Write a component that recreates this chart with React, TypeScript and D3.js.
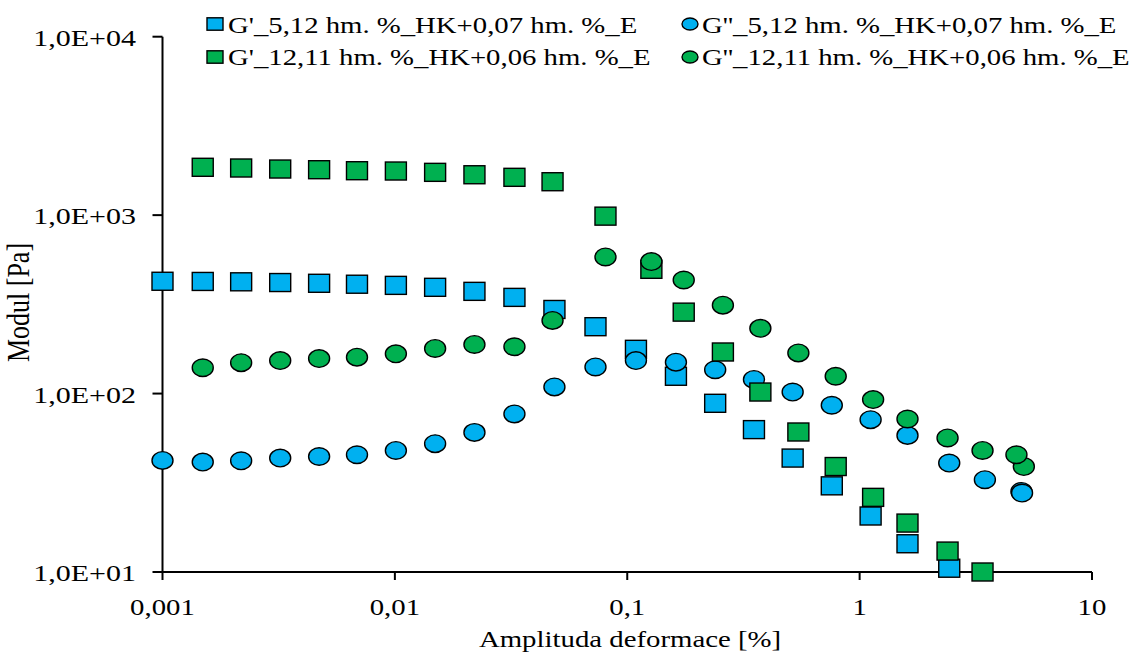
import React from "react";
import * as d3 from "d3";

// ---- data ----
const strainA = [0.001, 0.00149, 0.00218, 0.00321, 0.00472, 0.00687, 0.0101, 0.0149, 0.022, 0.0327, 0.0486, 0.073, 0.109, 0.162, 0.239, 0.351, 0.515, 0.759, 1.115, 1.607, 2.43, 3.46, 4.97, 5.0];
const gPrimeA = [426, 425, 423, 419, 415, 410, 404, 394, 374, 346, 296, 237, 177, 125, 88.2, 62.8, 43.5, 30.4, 20.6, 14.4, 10.5];
const gDoubleA = [42.2, 41.3, 42.0, 43.5, 44.4, 45.4, 48.0, 52.4, 60.6, 76.9, 109, 141, 153, 150, 136, 120, 102, 86.0, 71.4, 58.3, 40.8, 32.9, 28.3, 27.7];

const strainB = [0.00149, 0.00218, 0.00321, 0.00472, 0.00687, 0.0101, 0.0149, 0.022, 0.0327, 0.0477, 0.0806, 0.127, 0.175, 0.258, 0.374, 0.545, 0.789, 1.143, 1.607, 2.39, 3.38, 5.09, 4.73];
const gPrimeB = [1854, 1837, 1813, 1797, 1774, 1767, 1737, 1684, 1629, 1539, 987, 497, 286, 171, 102, 60.9, 39.0, 26.2, 18.8, 13.1, 10.0];
const gDoubleB = [139.5, 149, 153, 157, 160, 167, 179, 188.5, 183, 257, 583, 549, 433, 313, 232, 169, 125, 92.5, 72, 56.4, 48.0, 39.0, 45.4];

const xTicks = [0.001, 0.01, 0.1, 1, 10];
const xTickLabels = ["0,001", "0,01", "0,1", "1", "10"];
const yTicks = [10, 100, 1000, 10000];
const yTickLabels = ["1,0E+01", "1,0E+02", "1,0E+03", "1,0E+04"];

const seriesNames = [
  "G'_5,12 hm. %_HK+0,07 hm. %_E",
  "G''_5,12 hm. %_HK+0,07 hm. %_E",
  "G'_12,11 hm. %_HK+0,06 hm. %_E",
  "G''_12,11 hm. %_HK+0,06 hm. %_E",
];
const xTitle = "Amplituda deformace [%]";
const yTitle = "Modul [Pa]";

const BLUE = "#00B0F0";
const GREEN = "#00B050";
const FONT = "'Liberation Serif', 'Times New Roman', serif";

export default function App() {
  const W = 1137, H = 657;
  const x = d3.scaleLog().domain([0.001, 10]).range([162.5, 1092]);
  const y = d3.scaleLog().domain([10, 10000]).range([572, 36.7]);

  const series = [
    { xs: strainA, ys: gPrimeA, color: BLUE, shape: "square" },
    { xs: strainA, ys: gDoubleA, color: BLUE, shape: "circle" },
    { xs: strainB, ys: gPrimeB, color: GREEN, shape: "square" },
    { xs: strainB, ys: gDoubleB, color: GREEN, shape: "circle" },
  ];

  const marker = (shape: string, cx: number, cy: number, color: string, key: any, w = 21, h = 18) =>
    shape === "square" ? (
      <rect key={key} x={cx - w / 2} y={cy - h / 2} width={w} height={h} fill={color} stroke="#000" strokeWidth={1.4} />
    ) : (
      <ellipse key={key} cx={cx} cy={cy} rx={w / 2} ry={h / 2 - 0.2} fill={color} stroke="#000" strokeWidth={1.4} />
    );

  const legendPos = [
    { mx: 215, tx: 228, y: 24, tb: 33.3 },
    { mx: 690, tx: 702, y: 24, tb: 33.3 },
    { mx: 215, tx: 228, y: 57, tb: 65.3 },
    { mx: 690, tx: 702, y: 57, tb: 65.3 },
  ];

  return (
    <>
      <style>{"body{margin:0}"}</style>
      <svg width={W} height={H} style={{ display: "block", background: "#fff" }} fontFamily={FONT}>
        {/* axes */}
        <line x1={x.range()[0]} x2={x.range()[0]} y1={y.range()[1]} y2={y.range()[0]} stroke="#000" strokeWidth={2} />
        <line x1={x.range()[0]} x2={x.range()[1]} y1={y.range()[0]} y2={y.range()[0]} stroke="#000" strokeWidth={2} />
        {yTicks.map((t, i) => (
          <g key={"yt" + i}>
            <line x1={x.range()[0] - 10} x2={x.range()[0]} y1={y(t)} y2={y(t)} stroke="#000" strokeWidth={2} />
            <text transform={`translate(136,${y(t) + 9}) scale(1.25,1)`} textAnchor="end" fontSize={24} fill="#000">
              {yTickLabels[i]}
            </text>
          </g>
        ))}
        {xTicks.map((t, i) => (
          <g key={"xt" + i}>
            <line x1={x(t)} x2={x(t)} y1={y.range()[0]} y2={y.range()[0] + 8} stroke="#000" strokeWidth={2} />
            <text transform={`translate(${x(t)},615) scale(1.2,1)`} textAnchor="middle" fontSize={24} fill="#000">
              {xTickLabels[i]}
            </text>
          </g>
        ))}
        <text transform="translate(630,647) scale(1.2,1)" textAnchor="middle" fontSize={24} fill="#000">
          {xTitle}
        </text>
        <text transform="translate(29,302.5) scale(1.18,1) rotate(-90)" textAnchor="middle" fontSize={26} fill="#000">
          {yTitle}
        </text>

        {/* data */}
        {series.map((s, si) => (
          <g key={"s" + si}>
            {s.ys.map((v, i) => marker(s.shape, x(s.xs[i]), y(v), s.color, si + "-" + i))}
          </g>
        ))}

        {/* legend */}
        {series.map((s, i) => (
          <g key={"lg" + i}>
            {marker(s.shape, legendPos[i].mx, legendPos[i].y, s.color, "lm" + i, 16, 12.4)}
            <text transform={`translate(${legendPos[i].tx},${legendPos[i].tb}) scale(1.25,1)`} fontSize={23} fill="#000">
              {seriesNames[i]}
            </text>
          </g>
        ))}
      </svg>
    </>
  );
}
